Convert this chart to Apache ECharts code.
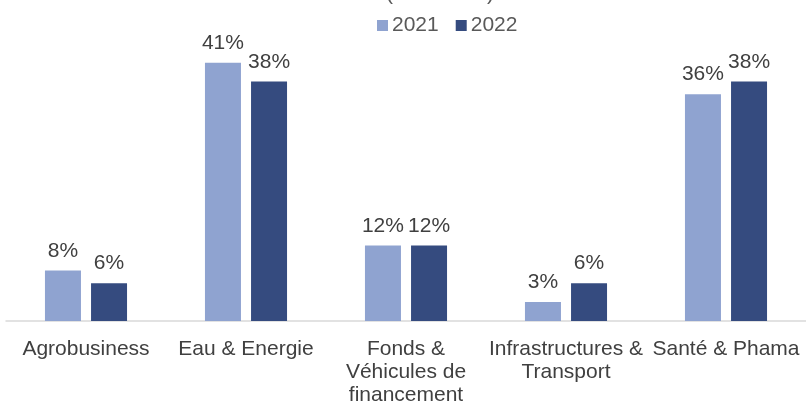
<!DOCTYPE html>
<html>
<head>
<meta charset="utf-8">
<script src="https://cdn.jsdelivr.net/npm/echarts@6/dist/echarts.min.js"></script>
<style>
  html, body { margin: 0; padding: 0; background: #fff; }
  #chart { width: 806px; height: 407px; }
</style>
</head>
<body>
<div id="chart"></div>
<script>
const categories = [
  'Agrobusiness',
  'Eau & Energie',
  'Fonds &\nVéhicules de\nfinancement',
  'Infrastructures &\nTransport',
  'Santé & Phama'
]
const values2021 = [8, 41, 12, 3, 36]
const values2022 = [6, 38, 12, 6, 38]

const font = '"Liberation Sans", Arial, sans-serif'
const textColor = '#404040'

const chart = echarts.init(document.getElementById('chart'))

const barLabel = {
  show: true,
  position: 'top',
  distance: 9,
  formatter: '{c}%',
  color: textColor,
  fontSize: 21,
  fontFamily: font
}

chart.setOption({
  animation: false,
  graphic: [
    { type: 'text', left: 386, top: -16, style: { text: '(', fontSize: 21, fill: '#595959', fontFamily: font } },
    { type: 'text', left: 487, top: -16, style: { text: ')', fontSize: 21, fill: '#595959', fontFamily: font } }
  ],
  legend: {
    left: 377,
    top: 15,
    padding: 0,
    itemWidth: 11,
    itemHeight: 11,
    itemGap: 17,
    icon: 'rect',
    textStyle: { color: '#595959', fontSize: 21, fontFamily: font, padding: [0, 0, 0, -1] }
  },
  grid: { left: 6, right: 0, top: 6, bottom: 84 },
  xAxis: {
    type: 'category',
    data: categories,
    axisLine: { lineStyle: { color: '#d9d9d9', width: 1.5 } },
    axisTick: { show: false },
    axisLabel: {
      interval: 0,
      margin: 17,
      color: textColor,
      fontSize: 21,
      lineHeight: 23,
      fontFamily: font
    }
  },
  yAxis: {
    type: 'value',
    min: 0,
    max: 50,
    show: false,
    splitLine: { show: false }
  },
  series: [
    {
      name: '2021',
      type: 'bar',
      data: values2021,
      barWidth: 36,
      barGap: '28%',
      itemStyle: { color: '#8FA3D0' },
      label: barLabel
    },
    {
      name: '2022',
      type: 'bar',
      data: values2022,
      barWidth: 36,
      itemStyle: { color: '#354B7F' },
      label: barLabel
    }
  ]
})
</script>
</body>
</html>
